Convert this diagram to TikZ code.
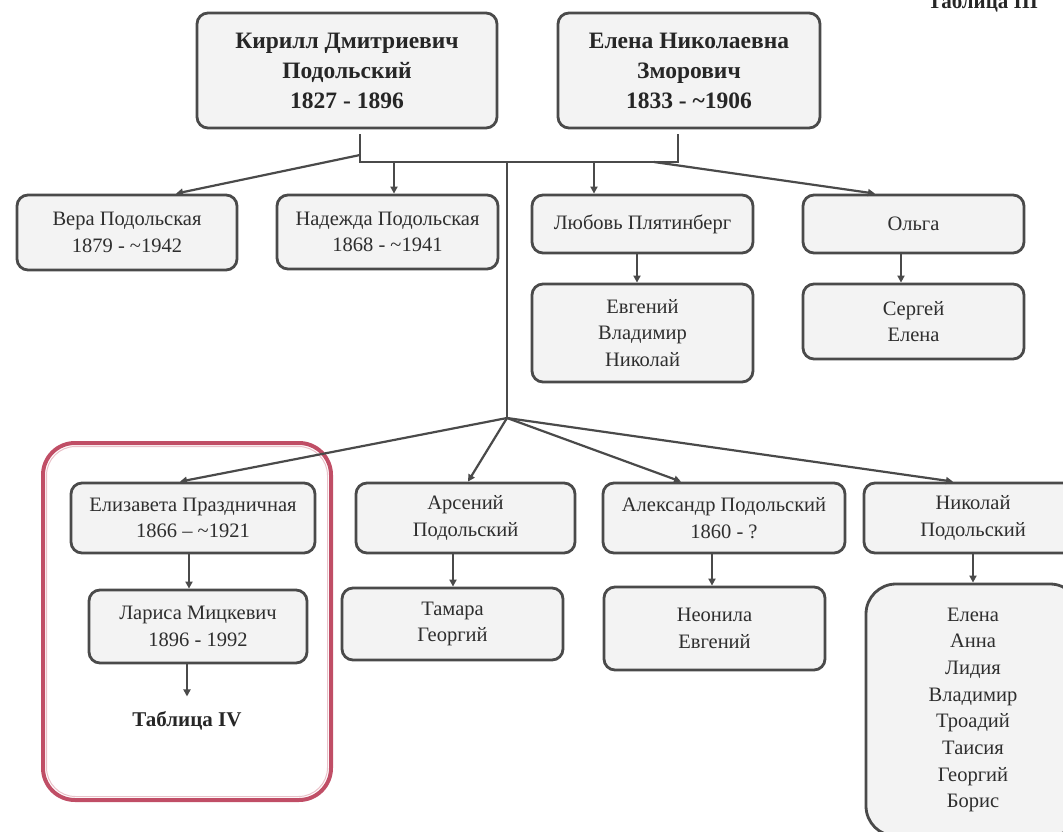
\documentclass[tikz,border=0pt]{standalone}
\usepackage{fontspec}
\setmainfont{Liberation Serif}
\usetikzlibrary{arrows.meta,calc}
\definecolor{boxline}{HTML}{4A4A4A}
\definecolor{boxfill}{HTML}{F3F3F3}
\definecolor{txt}{HTML}{2E2E2E}
\definecolor{redframe}{HTML}{C04E66}
\begin{document}
\begin{tikzpicture}[x=1pt,y=-1pt,
  box/.style={draw=boxline, fill=boxfill, line width=2.8pt, rounded corners=11pt,
    align=center, text=txt, inner sep=0pt, font=\fontsize{20.5}{26.7}\selectfont},
  topbox/.style={box, text=black!85, font=\fontsize{23.5}{30}\selectfont\bfseries},
  bigbox/.style={box, rounded corners=30pt},
  redbox/.style={draw=redframe, line width=4pt, rounded corners=32pt, inner sep=0pt},
  boldlabel/.style={text=black!85, inner sep=0pt, font=\fontsize{21}{26}\selectfont\bfseries},
  conn/.style={draw=boxline, line width=2.2pt},
  arr/.style={conn, -{Triangle[length=7pt,width=7pt]}},
]
\useasboundingbox (0,0) rectangle (1063,832);

% group frame
\node[redbox, minimum width=288pt, minimum height=357pt] (group) at (187,621.5) {};
\draw[draw=redframe!35, line width=1pt, rounded corners=29pt] (46.5,446.5) rectangle (327.5,796.5);

% title
\node[boldlabel, anchor=base] (tab3) at (983,9) {Таблица III};

% parents
\node[topbox, minimum width=300pt, minimum height=115pt] (kirill) at (347,70.5)
  {Кирилл Дмитриевич\\Подольский\\1827 - 1896};
\node[topbox, minimum width=262pt, minimum height=115pt] (elena) at (689,70.5)
  {Елена Николаевна\\Зморович\\1833 - \textasciitilde1906};

% first row of children
\node[box, minimum width=220pt, minimum height=75pt] (vera) at (127,232.5)
  {Вера Подольская\\1879 - \textasciitilde1942};
\node[box, minimum width=221pt, minimum height=74pt] (nadezhda) at (387.5,232)
  {Надежда Подольская\\1868 - \textasciitilde1941};
\node[box, minimum width=221pt, minimum height=58pt] (lyubov) at (642.5,224)
  {Любовь Плятинберг};
\node[box, minimum width=221pt, minimum height=58pt] (olga) at (913.5,224)
  {Ольга};
\node[box, minimum width=221pt, minimum height=98pt] (lyubovch) at (642.5,333)
  {Евгений\\Владимир\\Николай};
\node[box, minimum width=221pt, minimum height=75pt] (olgach) at (913.5,321.5)
  {Сергей\\Елена};

% second row of children
\node[box, minimum width=244pt, minimum height=70pt] (eliz) at (193,518)
  {Елизавета Праздничная\\1866 \textendash{} \textasciitilde1921};
\node[box, minimum width=219pt, minimum height=70pt] (arseniy) at (465.5,518)
  {Арсений\\Подольский};
\node[box, minimum width=242pt, minimum height=70pt] (aleks) at (724,518)
  {Александр Подольский\\1860 - ?};
\node[box, minimum width=218pt, minimum height=70pt] (nikolay) at (973,518)
  {Николай\\Подольский};

\node[box, minimum width=218pt, minimum height=73pt] (larisa) at (198,626.5)
  {Лариса Мицкевич\\1896 - 1992};
\node[box, minimum width=221pt, minimum height=72pt] (tamara) at (452.5,624)
  {Тамара\\Георгий};
\node[box, minimum width=221pt, minimum height=83pt] (neonila) at (714.5,628.5)
  {Неонила\\Евгений};
\node[bigbox, minimum width=214pt, minimum height=252pt] (nikch) at (973,710)
  {Елена\\Анна\\Лидия\\Владимир\\Троадий\\Таисия\\Георгий\\Борис};

\node[boldlabel] (tab4) at (187,721) {Таблица IV};

% junctions
\coordinate (jk) at (360,162);
\coordinate (je) at (678,162);
\coordinate (jm) at (507,162);
\coordinate (jv) at (360,155);
\coordinate (jo) at (654,162);
\coordinate (jl) at (507,418);

% connectors
\draw[conn] ([yshift=-5pt]kirill.south -| jk) -- (jk) -- (je) -- ([yshift=-5pt]elena.south -| je);
\draw[arr] (jv) -- ([xshift=49pt]vera.north);
\draw[arr] ([xshift=6.5pt]nadezhda.north |- jk) -- ([xshift=6.5pt]nadezhda.north);
\draw[arr] ([xshift=-48.5pt]lyubov.north |- jk) -- ([xshift=-48.5pt]lyubov.north);
\draw[arr] (jo) -- ([xshift=-38.5pt]olga.north);
\draw[arr] ([xshift=-5.5pt]lyubov.south) -- ([xshift=-5.5pt]lyubovch.north);
\draw[arr] ([xshift=-12.5pt]olga.south) -- ([xshift=-12.5pt]olgach.north);

\draw[conn] (jm) -- (jl);
\draw[arr] (jl) -- ([xshift=-13pt]eliz.north);
\draw[arr] (jl) -- ([xshift=2.5pt]arseniy.north);
\draw[arr] (jl) -- ([xshift=-43pt]aleks.north);
\draw[arr] (jl) -- ([xshift=-20pt]nikolay.north);

\draw[arr] ([xshift=-4pt]eliz.south) -- ([xshift=-4pt]eliz.south |- larisa.north);
\draw[arr] (larisa.south -| tab4.north) -- ([yshift=15pt]tab4.north);
\draw[arr] ([xshift=-12.5pt]arseniy.south) -- ([xshift=-12.5pt]arseniy.south |- tamara.north);
\draw[arr] ([xshift=-12pt]aleks.south) -- ([xshift=-12pt]aleks.south |- neonila.north);
\draw[arr] (nikolay.south) -- (nikch.north);
\end{tikzpicture}
\end{document}
